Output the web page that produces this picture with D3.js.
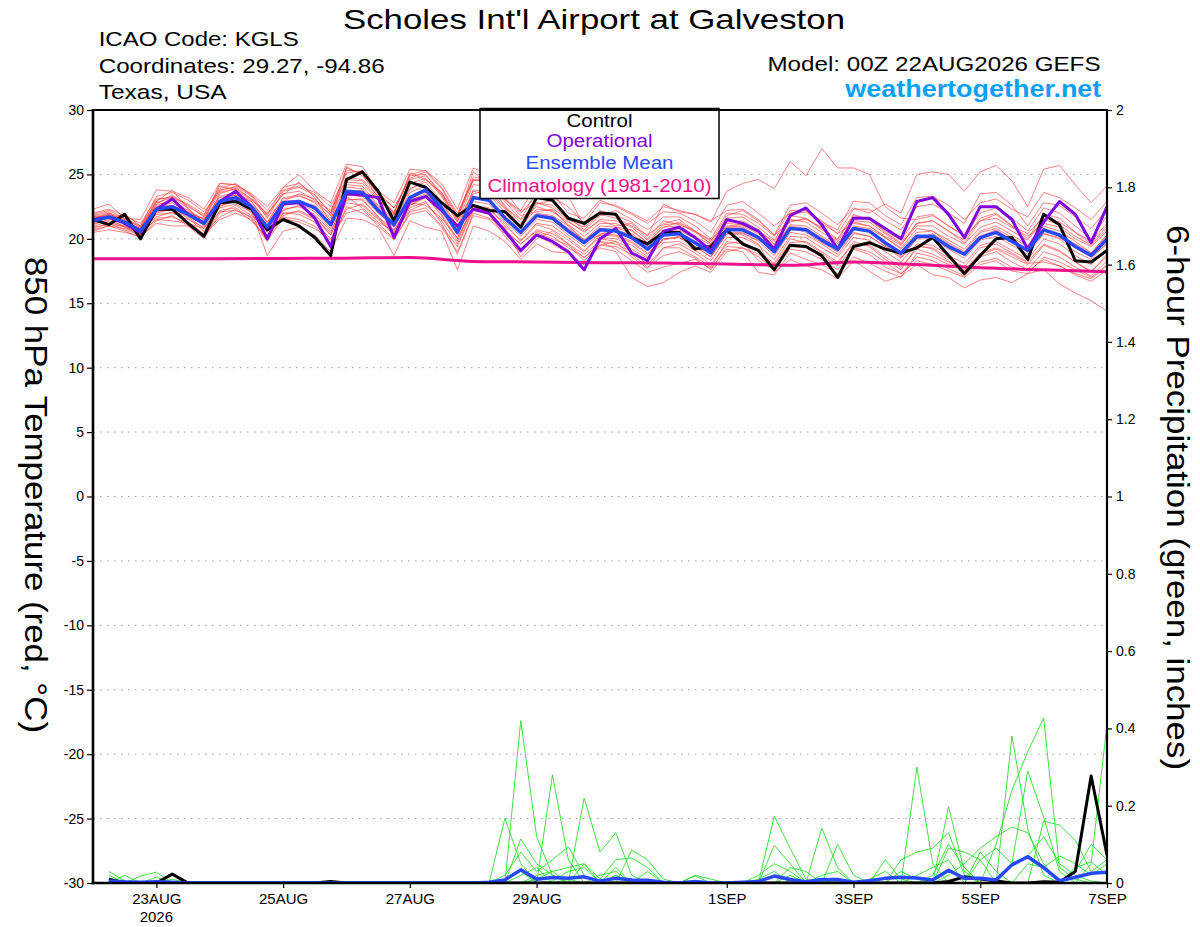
<!DOCTYPE html>
<html>
<head>
<meta charset="utf-8">
<script src="https://cdn.jsdelivr.net/npm/d3@7"></script>
<style>
  body { margin: 0; background: #fff; }
  svg { display: block; }
  text { font-family: "Liberation Sans", Arial, Helvetica, sans-serif; }
</style>
</head>
<body>
<div id="chart"></div>
<script>
// 6-hourly steps from 00Z 22AUG2026 (65 points)

var tempControl = [
  21.5, 21.1, 21.9, 20.0, 22.3, 22.3, 21.2, 20.2, 22.8, 22.9, 22.3, 20.7, 21.5, 21.0, 20.1, 18.7,
  24.6, 25.2, 23.7, 21.4, 24.4, 24.0, 22.8, 21.8, 22.6, 22.2, 22.1, 20.9, 23.2, 23.0, 21.6, 21.2,
  22.0, 21.9, 20.1, 19.6, 20.5, 20.5, 19.2, 19.4, 20.7, 19.6, 19.1, 17.6, 19.5, 19.4, 18.7, 17.0,
  19.4, 19.7, 19.2, 18.9, 19.3, 20.1, 18.7, 17.3, 18.7, 20.0, 20.1, 18.4, 21.9, 21.1, 18.3, 18.2,
  19.1
];

var tempOperational = [
  21.5, 21.7, 21.2, 20.5, 22.3, 23.1, 21.9, 21.2, 22.9, 23.7, 22.5, 20.0, 22.7, 22.8, 21.6, 19.4,
  23.5, 23.4, 23.2, 20.1, 22.9, 23.3, 22.2, 21.0, 22.3, 22.0, 20.6, 19.1, 20.3, 19.8, 19.0, 17.6,
  20.0, 20.8, 18.9, 18.3, 20.6, 20.9, 20.1, 19.1, 21.5, 21.2, 20.6, 19.2, 21.8, 22.4, 21.1, 19.2,
  21.6, 21.6, 20.8, 20.0, 22.9, 23.2, 21.9, 20.1, 22.5, 22.5, 21.5, 19.2, 21.3, 22.9, 21.9, 19.7,
  22.5
];

var tempMean = [
  21.4, 21.7, 21.3, 20.6, 22.3, 22.5, 21.9, 21.2, 22.9, 23.2, 22.5, 20.9, 22.8, 22.9, 22.4, 21.1,
  23.7, 23.6, 22.2, 21.1, 23.2, 23.8, 22.4, 20.5, 23.2, 23.0, 21.6, 20.5, 21.8, 21.6, 20.6, 19.7,
  20.7, 20.6, 20.1, 19.2, 20.3, 20.4, 19.7, 18.9, 20.7, 20.7, 20.1, 19.0, 20.8, 20.7, 19.9, 19.2,
  20.8, 20.6, 19.7, 18.9, 20.2, 20.2, 19.4, 18.8, 20.1, 20.5, 19.8, 19.1, 20.7, 20.3, 19.4, 18.7,
  20.0
];

// daily climatology (1981-2010)
var tempClimo = [18.45, 18.45, 18.45, 18.48, 18.5, 18.55, 18.25, 18.2, 18.15, 18.12, 18.05, 17.95, 18.2, 18.0, 17.75, 17.6, 17.45];

// ensemble members (red)
var tempMember01 = [
  21.9, 22.2, 21.6, 21.0, 23.3, 23.6, 23.0, 22.1, 23.7, 24.1, 23.3, 21.6, 23.7, 24.0, 23.4, 22.0,
  25.3, 25.2, 23.6, 22.4, 24.7, 25.2, 23.9, 21.8, 24.8, 24.6, 23.2, 22.0, 23.4, 23.2, 22.5, 21.2,
  22.8, 22.6, 22.0, 21.4, 22.5, 22.2, 21.9, 21.3, 23.7, 24.3, 24.6, 23.9, 26.0, 24.9, 27.0, 25.5,
  25.5, 25.0, 22.5, 21.6, 21.5, 21.8, 21.0, 20.2, 21.4, 21.9, 21.0, 20.4, 21.7, 21.3, 20.5, 19.6,
  21.0
];
var tempMember02 = [
  22.3, 22.7, 21.6, 21.5, 23.8, 23.7, 23.2, 22.3, 24.3, 24.2, 23.4, 21.8, 24.0, 25.0, 23.7, 22.8,
  25.8, 25.6, 23.7, 22.8, 25.4, 25.3, 24.3, 22.3, 25.5, 25.0, 23.7, 22.1, 22.8, 22.6, 21.5, 20.9,
  21.9, 21.6, 21.0, 20.3, 21.2, 21.5, 20.6, 19.8, 21.8, 22.2, 21.4, 20.3, 22.6, 22.8, 22.0, 21.1,
  22.4, 22.0, 22.7, 22.0, 25.0, 25.2, 25.0, 23.7, 25.2, 25.7, 24.5, 22.5, 25.4, 25.7, 24.2, 22.8,
  24.1
];
var tempMember03 = [
  20.5, 20.7, 20.5, 20.2, 21.2, 21.0, 21.0, 20.3, 21.5, 22.0, 21.5, 19.8, 21.7, 21.5, 21.0, 19.6,
  22.5, 22.0, 21.2, 20.0, 21.9, 22.2, 20.9, 19.0, 21.8, 21.5, 20.4, 19.2, 20.5, 20.0, 19.5, 18.3,
  19.5, 19.4, 18.8, 17.8, 18.7, 19.0, 18.5, 17.6, 19.4, 19.3, 18.6, 17.6, 19.2, 19.0, 18.4, 17.6,
  19.2, 18.8, 17.8, 17.3, 18.3, 18.0, 17.5, 17.0, 18.0, 18.3, 17.5, 17.3, 17.6, 16.5, 15.8, 15.2,
  14.4
];
var tempMember04 = [
  21.0, 21.3, 20.9, 20.5, 22.0, 22.3, 21.6, 20.6, 22.5, 23.0, 22.0, 20.2, 22.2, 22.6, 21.8, 20.3,
  23.0, 23.1, 21.7, 20.5, 22.6, 23.3, 21.8, 19.8, 22.5, 22.0, 20.6, 19.6, 20.6, 20.2, 19.3, 18.6,
  19.3, 19.0, 17.0, 16.3, 16.6, 17.4, 17.9, 17.4, 19.0, 19.3, 18.8, 18.0, 19.7, 19.8, 19.0, 18.2,
  19.6, 19.5, 18.6, 17.8, 19.2, 18.8, 18.2, 17.5, 18.8, 19.2, 18.6, 18.0, 19.5, 19.0, 18.2, 17.5,
  18.6
];
var tempMember05 = [
  21.6, 21.9, 21.5, 20.9, 22.6, 23.0, 22.2, 21.5, 23.3, 23.6, 22.9, 21.3, 23.2, 23.4, 22.8, 21.6,
  24.2, 24.1, 22.6, 21.5, 23.9, 24.4, 22.9, 21.0, 23.8, 23.6, 22.3, 21.0, 22.3, 22.2, 21.1, 20.2,
  21.2, 21.2, 20.6, 19.7, 20.9, 21.0, 20.2, 19.5, 21.3, 21.4, 20.7, 19.6, 21.5, 21.3, 20.5, 19.8,
  21.4, 21.3, 20.4, 19.6, 21.0, 21.0, 20.2, 19.6, 20.9, 21.3, 20.6, 19.9, 21.5, 21.1, 20.2, 19.5,
  20.8
];
var tempMember06 = [
  21.2, 21.4, 21.0, 20.4, 21.9, 22.0, 21.5, 20.9, 22.4, 22.7, 22.1, 20.5, 22.3, 22.5, 21.9, 20.6,
  23.1, 23.0, 21.7, 20.7, 22.6, 23.2, 21.9, 20.0, 22.6, 22.4, 21.0, 19.9, 21.2, 21.0, 20.1, 19.1,
  20.1, 20.0, 19.5, 18.6, 19.7, 19.8, 19.1, 18.3, 20.1, 20.1, 19.5, 18.4, 20.2, 20.1, 19.3, 18.6,
  20.1, 19.9, 19.0, 18.2, 19.6, 19.5, 18.7, 18.1, 19.5, 19.8, 19.1, 18.4, 20.0, 19.6, 18.7, 18.0,
  19.2
];
var tempMember07 = [
  21.8, 22.1, 21.1, 20.7, 22.8, 23.2, 22.4, 21.0, 23.5, 23.9, 22.2, 18.7, 20.6, 20.9, 20.3, 19.0,
  21.6, 21.5, 20.9, 18.7, 21.4, 20.9, 20.6, 17.6, 21.0, 20.6, 19.8, 18.4, 19.6, 19.0, 18.9, 17.6,
  20.0, 19.8, 19.2, 18.5, 20.0, 20.1, 19.4, 18.6, 20.4, 20.5, 19.8, 18.7, 20.5, 20.3, 19.6, 18.8,
  20.4, 20.2, 19.4, 18.5, 20.0, 20.0, 19.2, 18.5, 19.9, 20.2, 19.5, 18.8, 20.4, 20.0, 19.0, 18.4,
  19.7
];
var tempMember08 = [
  21.5, 21.8, 21.4, 20.8, 22.5, 22.8, 22.0, 21.4, 23.2, 23.4, 22.7, 21.3, 23.1, 23.3, 22.9, 21.9,
  24.8, 24.6, 23.3, 22.1, 24.9, 25.0, 23.4, 21.6, 24.5, 24.8, 23.0, 22.2, 24.2, 23.7, 23.3, 21.0,
  22.2, 21.8, 21.3, 20.2, 22.7, 22.1, 21.9, 21.4, 22.2, 22.3, 21.5, 20.3, 21.3, 21.6, 20.8, 20.0,
  21.9, 21.5, 20.5, 19.7, 21.2, 21.4, 20.6, 19.9, 21.6, 22.0, 21.0, 20.0, 21.9, 21.6, 20.5, 19.8,
  21.2
];
var tempMember09 = [
  21.1, 21.5, 21.3, 20.6, 22.1, 22.3, 21.8, 21.1, 22.8, 23.0, 22.4, 21.0, 22.9, 23.0, 22.3, 21.0,
  23.6, 23.8, 22.4, 21.3, 23.3, 23.6, 22.3, 20.6, 23.1, 23.0, 21.8, 20.6, 21.9, 21.7, 20.8, 19.9,
  20.8, 20.7, 20.3, 19.4, 20.4, 20.5, 19.8, 19.0, 20.9, 21.0, 20.4, 19.3, 21.0, 20.8, 20.1, 19.3,
  20.9, 20.6, 19.5, 18.6, 19.5, 19.2, 18.3, 17.2, 18.2, 18.5, 17.8, 17.5, 18.4, 17.9, 17.2, 16.7,
  17.6
];
var tempMember10 = [
  21.3, 21.6, 20.9, 20.3, 22.2, 22.4, 21.7, 20.8, 22.6, 22.9, 22.3, 20.6, 22.6, 22.8, 22.1, 20.8,
  23.4, 23.3, 22.0, 20.9, 23.0, 23.5, 22.1, 20.3, 22.9, 22.7, 21.3, 20.2, 21.5, 21.3, 20.3, 19.4,
  20.4, 20.3, 19.8, 18.9, 20.0, 20.1, 19.4, 18.6, 20.4, 20.3, 19.6, 17.4, 18.4, 17.9, 17.6, 16.9,
  18.3, 17.5, 16.7, 17.1, 18.0, 17.2, 17.0, 16.2, 16.8, 17.0, 16.6, 17.3, 18.6, 18.2, 17.6, 17.0,
  18.0
];
var tempMember11 = [
  21.7, 22.0, 21.6, 20.9, 23.0, 23.3, 22.6, 21.7, 23.8, 24.0, 23.1, 21.9, 23.5, 23.7, 23.0, 22.2,
  24.6, 24.5, 23.1, 21.8, 24.3, 24.7, 23.3, 21.3, 24.2, 24.1, 22.6, 21.2, 22.8, 22.4, 21.4, 20.5,
  21.5, 21.4, 20.9, 19.9, 21.1, 21.2, 20.5, 19.6, 21.6, 21.7, 20.9, 19.9, 21.8, 21.6, 20.7, 19.9,
  21.8, 21.5, 20.6, 19.9, 21.7, 21.9, 21.0, 20.3, 22.0, 22.4, 21.6, 20.6, 22.4, 22.0, 21.0, 20.0,
  21.8
];
var tempMember12 = [
  20.8, 21.2, 20.7, 20.3, 21.6, 21.7, 21.2, 20.1, 22.2, 22.4, 21.6, 19.9, 22.0, 22.1, 21.5, 20.3,
  22.8, 22.6, 21.5, 20.4, 22.2, 22.8, 21.4, 19.6, 22.3, 22.1, 20.7, 19.6, 20.7, 20.4, 19.6, 18.8,
  19.8, 19.6, 19.0, 18.0, 19.3, 19.3, 18.6, 17.8, 19.8, 19.6, 19.0, 18.1, 20.0, 19.7, 18.9, 18.0,
  19.8, 19.4, 18.4, 17.6, 19.4, 19.3, 18.5, 17.8, 19.3, 19.6, 18.9, 18.2, 19.6, 19.1, 18.2, 17.4,
  18.8
];
var tempMember13 = [
  22.0, 22.3, 21.8, 21.2, 23.1, 23.2, 22.7, 21.9, 23.9, 24.3, 23.4, 22.2, 23.8, 24.1, 23.6, 22.5,
  25.1, 25.3, 23.4, 22.4, 24.6, 24.9, 23.6, 21.8, 24.6, 24.4, 23.1, 21.8, 22.1, 22.3, 21.0, 19.8,
  20.3, 20.9, 20.7, 19.7, 20.9, 21.3, 20.6, 19.6, 21.0, 21.1, 20.5, 19.5, 21.9, 22.1, 21.2, 20.4,
  22.3, 22.3, 21.4, 20.7, 22.5, 22.7, 22.0, 21.2, 23.5, 23.6, 22.6, 21.0, 22.8, 22.6, 21.7, 20.8,
  22.3
];
var tempMember14 = [
  20.9, 21.1, 21.0, 20.5, 21.7, 22.1, 21.3, 20.4, 21.7, 22.3, 21.4, 20.1, 22.0, 21.9, 21.3, 20.0,
  22.0, 22.3, 21.0, 19.9, 22.1, 22.4, 21.0, 19.4, 22.2, 21.9, 20.2, 18.9, 20.3, 19.6, 18.9, 18.0,
  19.5, 19.8, 18.6, 17.7, 19.3, 19.6, 18.9, 18.0, 19.6, 19.8, 18.3, 17.6, 19.4, 19.3, 18.6, 17.9,
  19.3, 19.0, 18.2, 17.3, 18.6, 18.3, 17.7, 17.1, 18.6, 19.0, 18.2, 17.6, 19.0, 18.6, 17.8, 17.1,
  18.3
];
var tempMember15 = [
  21.5, 22.0, 21.2, 20.8, 22.9, 23.8, 22.3, 21.3, 24.3, 24.2, 23.5, 22.5, 24.0, 24.3, 23.4, 22.0,
  25.5, 25.0, 23.2, 22.0, 25.0, 25.3, 24.0, 22.0, 24.6, 24.3, 22.5, 20.9, 22.7, 23.0, 21.7, 20.7,
  21.8, 22.2, 21.5, 20.7, 21.7, 21.7, 21.0, 20.0, 22.0, 21.9, 21.2, 20.2, 22.2, 22.2, 21.4, 20.4,
  21.2, 21.0, 20.1, 19.3, 20.8, 20.6, 19.9, 19.2, 20.6, 21.0, 20.3, 19.5, 20.8, 20.2, 19.6, 18.9,
  20.3
];
var tempMember16 = [
  21.2, 21.7, 21.5, 20.7, 22.4, 22.6, 22.1, 21.5, 22.9, 23.4, 22.9, 21.2, 22.9, 22.8, 22.6, 21.4,
  24.0, 23.9, 22.5, 21.4, 23.6, 24.1, 22.8, 20.8, 23.7, 23.4, 22.1, 20.8, 22.0, 21.8, 21.0, 19.9,
  21.0, 20.9, 20.4, 19.5, 20.6, 20.7, 20.0, 19.2, 20.9, 20.9, 20.2, 19.3, 21.1, 21.0, 20.2, 19.4,
  21.0, 20.8, 20.1, 19.2, 20.5, 20.6, 19.7, 19.0, 20.5, 20.8, 20.1, 19.4, 21.0, 20.6, 19.8, 18.9,
  20.3
];
var tempMember17 = [
  21.3, 21.9, 21.4, 20.6, 22.7, 23.4, 22.5, 21.8, 24.1, 23.8, 23.0, 22.0, 23.4, 24.4, 23.2, 21.3,
  25.6, 24.9, 23.5, 21.9, 25.1, 24.6, 23.5, 21.5, 25.2, 24.2, 22.9, 21.5, 23.7, 23.5, 22.0, 21.6,
  23.0, 22.5, 21.9, 21.2, 22.1, 22.0, 21.4, 20.5, 22.6, 22.9, 22.0, 21.0, 22.0, 22.3, 21.3, 20.7,
  22.9, 22.8, 21.8, 21.1, 23.2, 23.3, 22.6, 21.5, 22.8, 23.1, 22.3, 21.7, 23.6, 23.2, 22.4, 21.5,
  22.9
];
var tempMember18 = [
  20.7, 21.0, 20.6, 20.1, 21.4, 21.8, 21.0, 20.0, 22.0, 22.6, 21.8, 20.8, 21.6, 21.3, 20.8, 19.9,
  22.3, 22.7, 21.6, 20.3, 22.4, 22.9, 21.2, 18.8, 22.0, 21.6, 20.9, 18.6, 20.0, 20.6, 19.6, 18.5,
  19.8, 19.2, 18.3, 17.4, 17.8, 18.1, 18.4, 17.7, 19.2, 19.0, 17.4, 17.2, 18.9, 18.4, 18.0, 17.3,
  18.6, 18.1, 17.5, 17.0, 18.9, 18.6, 18.0, 17.6, 18.9, 19.3, 18.8, 18.1, 18.2, 17.9, 17.3, 16.9,
  17.9
];
var tempMember19 = [
  21.8, 21.6, 21.9, 21.0, 22.9, 22.4, 22.0, 21.6, 23.6, 23.9, 23.1, 21.7, 22.9, 23.5, 23.1, 21.8,
  24.4, 24.3, 23.0, 21.9, 23.8, 24.6, 23.6, 21.4, 23.5, 23.8, 22.4, 21.5, 22.5, 22.1, 21.3, 20.6,
  21.4, 21.0, 21.2, 20.0, 21.4, 21.1, 20.6, 19.9, 21.2, 21.1, 20.6, 19.8, 21.4, 21.5, 20.9, 19.6,
  21.3, 21.0, 20.2, 19.5, 21.2, 21.4, 20.6, 19.7, 21.4, 21.6, 20.9, 20.2, 21.2, 20.9, 20.0, 19.4,
  20.6
];
var tempMember20 = [
  20.6, 21.0, 20.8, 20.4, 21.5, 21.4, 21.2, 20.8, 22.1, 22.2, 21.7, 20.3, 21.8, 22.2, 21.6, 20.5,
  23.3, 22.4, 21.3, 20.6, 22.8, 22.6, 21.6, 20.1, 22.4, 22.3, 21.2, 19.8, 21.1, 20.7, 19.9, 19.0,
  20.3, 20.2, 19.7, 18.8, 19.9, 20.2, 19.4, 18.9, 20.5, 20.4, 19.9, 19.1, 20.9, 20.5, 19.7, 19.0,
  20.5, 20.2, 19.4, 18.7, 20.0, 20.4, 19.6, 18.9, 20.2, 20.7, 19.9, 19.2, 20.4, 20.1, 19.3, 18.6,
  19.6
];
var tempMembers = [tempMember01, tempMember02, tempMember03, tempMember04, tempMember05, tempMember06,
  tempMember07, tempMember08, tempMember09, tempMember10, tempMember11, tempMember12, tempMember13,
  tempMember14, tempMember15, tempMember16, tempMember17, tempMember18, tempMember19, tempMember20];

// 6-hour precipitation (inches), first step has no accumulation
var precipControl = [
  null, .01, 0, 0, 0, .023, 0, 0, 0, 0, 0, 0, 0, 0, 0, .004,
  0, 0, 0, 0, 0, 0, 0, 0, 0, 0, 0, 0, 0, 0, 0, 0,
  0, 0, 0, 0, 0, 0, 0, 0, 0, 0, 0, 0, 0, 0, 0, 0,
  0, 0, 0, 0, 0, 0, .004, .016, .01, .005, 0, 0, .003, .002, .03, .277,
  .072
];
var precipMean = [
  null, .005, .003, .002, .003, .002, 0, 0, 0, 0, 0, 0, 0, 0, 0, 0,
  0, 0, 0, 0, 0, 0, 0, 0, 0, .002, .008, .034, .01, .014, .012, .016,
  .005, .012, .008, .007, .002, 0, .004, 0, 0, .002, .004, .018, .009, .003, .009, .009,
  .002, .006, .012, .015, .013, .008, .033, .012, .012, .008, .047, .068, .04, .006, .015, .025,
  .028
];

// ensemble members (green)
var precipMember01 = [
  null, .03, .005, 0, 0, 0, 0, 0, 0, 0, 0, 0, 0, 0, 0, 0,
  0, 0, 0, 0, 0, 0, 0, 0, 0, 0, 0, .42, .12, .02, 0, 0,
  0, 0, 0, 0, 0, 0, 0, 0, 0, 0, 0, 0, .02, 0, 0, 0,
  0, 0, 0, 0, .30, .05, 0, 0, 0, .1, .24, .34, .427, .04, .01, 0,
  0
];
var precipMember02 = [
  null, 0, 0, .018, .028, 0, 0, 0, 0, 0, 0, 0, 0, 0, 0, 0,
  0, 0, 0, 0, 0, 0, 0, 0, 0, 0, .168, .05, 0, .28, .06, 0,
  0, .04, 0, 0, 0, 0, 0, 0, 0, 0, 0, .173, .09, .01, 0, 0,
  0, 0, 0, 0, 0, 0, .197, .03, 0, 0, .38, .14, .02, 0, 0, .05,
  .41
];
var precipMember03 = [
  null, 0, .02, 0, 0, 0, 0, 0, 0, 0, 0, 0, 0, 0, 0, 0,
  0, 0, 0, 0, 0, 0, 0, 0, 0, 0, 0, .114, .05, .02, 0, .22,
  .08, .13, .02, 0, 0, 0, 0, 0, 0, 0, 0, 0, 0, 0, .142, .04,
  0, 0, 0, 0, 0, 0, 0, 0, .06, .09, .05, .29, .17, .03, 0, 0,
  0
];
var precipMember04 = [
  null, .01, 0, 0, 0, 0, 0, 0, 0, 0, 0, 0, 0, 0, 0, 0,
  0, 0, 0, 0, 0, 0, 0, 0, 0, 0, .02, .08, .03, .06, .094, .02,
  0, 0, .085, .06, .01, 0, 0, 0, 0, 0, 0, .098, .05, 0, 0, 0,
  0, 0, 0, .06, .08, .09, .13, .02, 0, 0, 0, 0, .16, .15, .11, .03,
  .06
];
var precipMember05 = [
  null, 0, 0, 0, .015, 0, 0, 0, 0, 0, 0, 0, 0, 0, 0, 0,
  0, 0, 0, 0, 0, 0, 0, 0, 0, 0, 0, 0, .02, .03, .04, .05,
  .01, .06, .065, .04, 0, 0, .02, .01, 0, 0, 0, 0, .04, .03, 0, .1,
  .02, 0, .06, .01, 0, 0, .09, .08, .06, 0, 0, 0, 0, 0, .04, .055,
  .02
];
var precipMember06 = [
  null, 0, 0, 0, 0, 0, 0, 0, 0, 0, 0, 0, 0, 0, 0, 0,
  0, 0, 0, 0, 0, 0, 0, 0, 0, 0, .01, .03, 0, .005, .03, .04,
  0, .02, 0, .03, 0, 0, .018, 0, 0, 0, .02, .05, .03, 0, 0, 0,
  0, .01, .03, 0, .02, .04, .06, 0, .08, .03, 0, .05, .04, .07, .05, .02,
  .05
];
var precipMember07 = [
  null, 0, 0, 0, 0, 0, 0, 0, 0, 0, 0, 0, 0, 0, 0, 0,
  0, 0, 0, 0, 0, 0, 0, 0, 0, 0, 0, .02, .04, 0, .01, 0,
  .02, .03, 0, 0, 0, 0, 0, 0, 0, 0, .01, .03, 0, .005, 0, .01,
  0, 0, 0, .03, .01, 0, .02, .05, .09, .12, .145, .13, .05, 0, .03, .1,
  .06
];
var precipMember08 = [
  null, .02, 0, 0, 0, .01, 0, 0, 0, 0, 0, 0, 0, 0, 0, 0,
  0, 0, 0, 0, 0, 0, 0, 0, 0, 0, 0, 0, .01, .03, 0, .05,
  0, .02, 0, 0, 0, 0, 0, 0, 0, 0, 0, 0, 0, 0, .02, .03,
  0, 0, 0, 0, 0, .02, .1, .04, 0, 0, .05, .07, .12, .05, .02, .005,
  0
];
var precipMembers = [precipMember01, precipMember02, precipMember03, precipMember04,
  precipMember05, precipMember06, precipMember07, precipMember08];

// axis ticks
var tempTicks = [-30, -25, -20, -15, -10, -5, 0, 5, 10, 15, 20, 25, 30];
var precipTicks = [0, 0.2, 0.4, 0.6, 0.8, 1, 1.2, 1.4, 1.6, 1.8, 2];
var dateTicks = ["2026-08-23", "2026-08-25", "2026-08-27", "2026-08-29", "2026-09-01", "2026-09-03", "2026-09-05", "2026-09-07"];
var dateLabels = ["23AUG", "25AUG", "27AUG", "29AUG", "1SEP", "3SEP", "5SEP", "7SEP"];

// Set the svg width and height
var svgWidth = 1200;
var svgHeight = 927;

var margin = {
  top: 110,
  right: 93,
  bottom: 44,
  left: 93
};

var width = svgWidth - margin.left - margin.right;
var height = svgHeight - margin.top - margin.bottom;

var svg = d3.select("#chart")
  .append("svg")
  .attr("width", svgWidth)
  .attr("height", svgHeight)
  .style("background", "#fff");

var chartGroup = svg.append("g")
  .attr("transform", `translate(${margin.left}, ${margin.top})`);

// time runs from the 00Z run start, 6-hourly
var runStart = Date.UTC(2026, 7, 22, 0);
var runEnd = Date.UTC(2026, 8, 7, 0);
function stepTime(i, hours) {
  return new Date(runStart + i * hours * 3600 * 1000);
}

var xTimeScale = d3.scaleUtc()
  .domain([new Date(runStart), new Date(runEnd)])
  .range([0, width]);

var yTempScale = d3.scaleLinear()
  .domain([-30, 30])
  .range([height, 0]);

var yPrecipScale = d3.scaleLinear()
  .domain([0, 2])
  .range([height, 0]);

// dotted gridlines at the temperature ticks
chartGroup.selectAll(".grid")
  .data(tempTicks.filter(d => d > -30 && d < 30))
  .enter()
  .append("line")
  .attr("class", "grid")
  .attr("x1", 0)
  .attr("x2", width)
  .attr("y1", d => yTempScale(d))
  .attr("y2", d => yTempScale(d))
  .attr("stroke", "#9a9a9a")
  .attr("stroke-width", 1)
  .attr("stroke-dasharray", "1.5,5.5");

svg.append("defs").append("clipPath")
  .attr("id", "plotClip")
  .append("rect")
  .attr("x", 0)
  .attr("y", -2)
  .attr("width", width)
  .attr("height", height + 2);

var plot = chartGroup.append("g").attr("clip-path", "url(#plotClip)");

var tempLine = d3.line()
  .x((d, i) => xTimeScale(stepTime(i, 6)))
  .y(d => yTempScale(d));

var climoLine = d3.line()
  .x((d, i) => xTimeScale(stepTime(i, 24)))
  .y(d => yTempScale(d))
  .curve(d3.curveMonotoneX);

var precipLine = d3.line()
  .defined(d => d != null)
  .x((d, i) => xTimeScale(stepTime(i, 6)))
  .y(d => yPrecipScale(d));

// spaghetti first
plot.selectAll(".member")
  .data(tempMembers)
  .enter()
  .append("path")
  .attr("class", "member")
  .attr("d", tempLine)
  .attr("fill", "none")
  .attr("stroke", "#ff3a3a")
  .attr("stroke-opacity", 0.8)
  .attr("stroke-width", 0.8);

plot.selectAll(".pmember")
  .data(precipMembers)
  .enter()
  .append("path")
  .attr("class", "pmember")
  .attr("d", precipLine)
  .attr("fill", "none")
  .attr("stroke", "#2fdc2f")
  .attr("stroke-width", 0.9);

plot.append("path")
  .datum(tempClimo)
  .attr("d", climoLine)
  .attr("fill", "none")
  .attr("stroke", "#f0108c")
  .attr("stroke-width", 3);

plot.append("path")
  .datum(tempControl)
  .attr("d", tempLine)
  .attr("fill", "none")
  .attr("stroke", "#000")
  .attr("stroke-width", 3)
  .attr("stroke-linejoin", "round");

plot.append("path")
  .datum(tempOperational)
  .attr("d", tempLine)
  .attr("fill", "none")
  .attr("stroke", "#8000e0")
  .attr("stroke-width", 3)
  .attr("stroke-linejoin", "round");

plot.append("path")
  .datum(tempMean)
  .attr("d", tempLine)
  .attr("fill", "none")
  .attr("stroke", "#2848ff")
  .attr("stroke-width", 3.5)
  .attr("stroke-linejoin", "round");

plot.append("path")
  .datum(precipControl)
  .attr("d", precipLine)
  .attr("fill", "none")
  .attr("stroke", "#000")
  .attr("stroke-width", 3)
  .attr("stroke-linejoin", "round");

plot.append("path")
  .datum(precipMean)
  .attr("d", precipLine)
  .attr("fill", "none")
  .attr("stroke", "#2848ff")
  .attr("stroke-width", 3.5)
  .attr("stroke-linejoin", "round");

// legend box on top of the lines
var legend = chartGroup.append("g");
legend.append("rect")
  .attr("x", 480 - margin.left)
  .attr("y", -1.5)
  .attr("width", 239)
  .attr("height", 90)
  .attr("fill", "#fff")
  .attr("stroke", "#000")
  .attr("stroke-width", 1.5);

var legendItems = [
  { text: "Control", color: "#000", y: 126.7, len: 66 },
  { text: "Operational", color: "#8000e0", y: 147.3, len: 106 },
  { text: "Ensemble Mean", color: "#2848ff", y: 169, len: 148 },
  { text: "Climatology (1981-2010)", color: "#f0108c", y: 191.7, len: 224 }
];
legend.selectAll(".legtext")
  .data(legendItems)
  .enter()
  .append("text")
  .attr("x", 599.5 - margin.left)
  .attr("y", d => d.y - margin.top)
  .attr("text-anchor", "middle")
  .attr("font-size", "17.5px")
  .attr("fill", d => d.color)
  .attr("textLength", d => d.len)
  .attr("lengthAdjust", "spacingAndGlyphs")
  .text(d => d.text);

// axes
var leftAxis = d3.axisLeft(yTempScale)
  .tickValues(tempTicks)
  .tickSize(6)
  .tickPadding(3)
  .tickFormat(d => String(d));

var rightAxis = d3.axisRight(yPrecipScale)
  .tickValues(precipTicks)
  .tickSize(5)
  .tickPadding(4)
  .tickFormat(d => String(+d.toFixed(1)));

var bottomAxis = d3.axisBottom(xTimeScale)
  .tickValues(dateTicks.map(d => new Date(d + "T00:00:00Z")))
  .tickSize(5)
  .tickPadding(5)
  .tickFormat((d, i) => dateLabels[i]);

var gLeft = chartGroup.append("g").call(leftAxis);
var gRight = chartGroup.append("g").attr("transform", `translate(${width}, 0)`).call(rightAxis);
var gBottom = chartGroup.append("g").attr("transform", `translate(0, ${height})`).call(bottomAxis);

[gLeft, gRight, gBottom].forEach(function(g) {
  g.select(".domain").remove();
  g.attr("font-family", null).attr("font-size", null);
  g.selectAll("text").attr("font-size", "14px").attr("fill", "#000");
  g.selectAll("line").attr("stroke", "#000").attr("stroke-width", 1.2);
});
gBottom.selectAll("text").attr("font-size", "15px");

chartGroup.append("text")
  .attr("x", xTimeScale(new Date(dateTicks[0] + "T00:00:00Z")))
  .attr("y", 922 - margin.top)
  .attr("text-anchor", "middle")
  .attr("font-size", "15px")
  .text("2026");

// plot frame
var frame = [
  { x1: 0, y1: 0, x2: width, y2: 0, w: 2 },
  { x1: 0, y1: -1, x2: 0, y2: height + 1.3, w: 2.6 },
  { x1: width, y1: -1, x2: width, y2: height + 1.3, w: 2.2 },
  { x1: -1.3, y1: height, x2: width + 1.1, y2: height, w: 2.7 }
];
chartGroup.selectAll(".frame")
  .data(frame)
  .enter()
  .append("line")
  .attr("x1", d => d.x1)
  .attr("y1", d => d.y1)
  .attr("x2", d => d.x2)
  .attr("y2", d => d.y2)
  .attr("stroke", "#000")
  .attr("stroke-width", d => d.w);

// titles and header text
var header = [
  { text: "Scholes Int'l Airport at Galveston", x: 594, y: 28.5, size: 28, anchor: "middle", len: 502, color: "#000", weight: "normal" },
  { text: "ICAO Code: KGLS", x: 98.7, y: 45.7, size: 21, anchor: "start", len: 200, color: "#000", weight: "normal" },
  { text: "Coordinates: 29.27, -94.86", x: 98.7, y: 72.7, size: 21, anchor: "start", len: 286, color: "#000", weight: "normal" },
  { text: "Texas, USA", x: 98.7, y: 99.3, size: 21, anchor: "start", len: 128, color: "#000", weight: "normal" },
  { text: "Model: 00Z 22AUG2026 GEFS", x: 1100.5, y: 70.7, size: 21, anchor: "end", len: 333, color: "#000", weight: "normal" },
  { text: "weathertogether.net", x: 1101.3, y: 97.3, size: 24, anchor: "end", len: 256, color: "#0aa0f8", weight: "bold" }
];
svg.selectAll(".header")
  .data(header)
  .enter()
  .append("text")
  .attr("class", "header")
  .attr("x", d => d.x)
  .attr("y", d => d.y)
  .attr("text-anchor", d => d.anchor)
  .attr("font-size", d => d.size + "px")
  .attr("font-weight", d => d.weight)
  .attr("fill", d => d.color)
  .attr("textLength", d => d.len)
  .attr("lengthAdjust", "spacingAndGlyphs")
  .text(d => d.text);

// y axes labels, both read top to bottom
svg.append("text")
  .attr("transform", "translate(24.5, 495) rotate(90)")
  .attr("text-anchor", "middle")
  .attr("font-size", "32px")
  .attr("textLength", 476)
  .attr("lengthAdjust", "spacingAndGlyphs")
  .text("850 hPa Temperature (red, \u00B0C)");

svg.append("text")
  .attr("transform", "translate(1166.5, 497.5) rotate(90)")
  .attr("text-anchor", "middle")
  .attr("font-size", "32px")
  .attr("textLength", 545)
  .attr("lengthAdjust", "spacingAndGlyphs")
  .text("6-hour Precipitation (green, inches)");
</script>
</body>
</html>
